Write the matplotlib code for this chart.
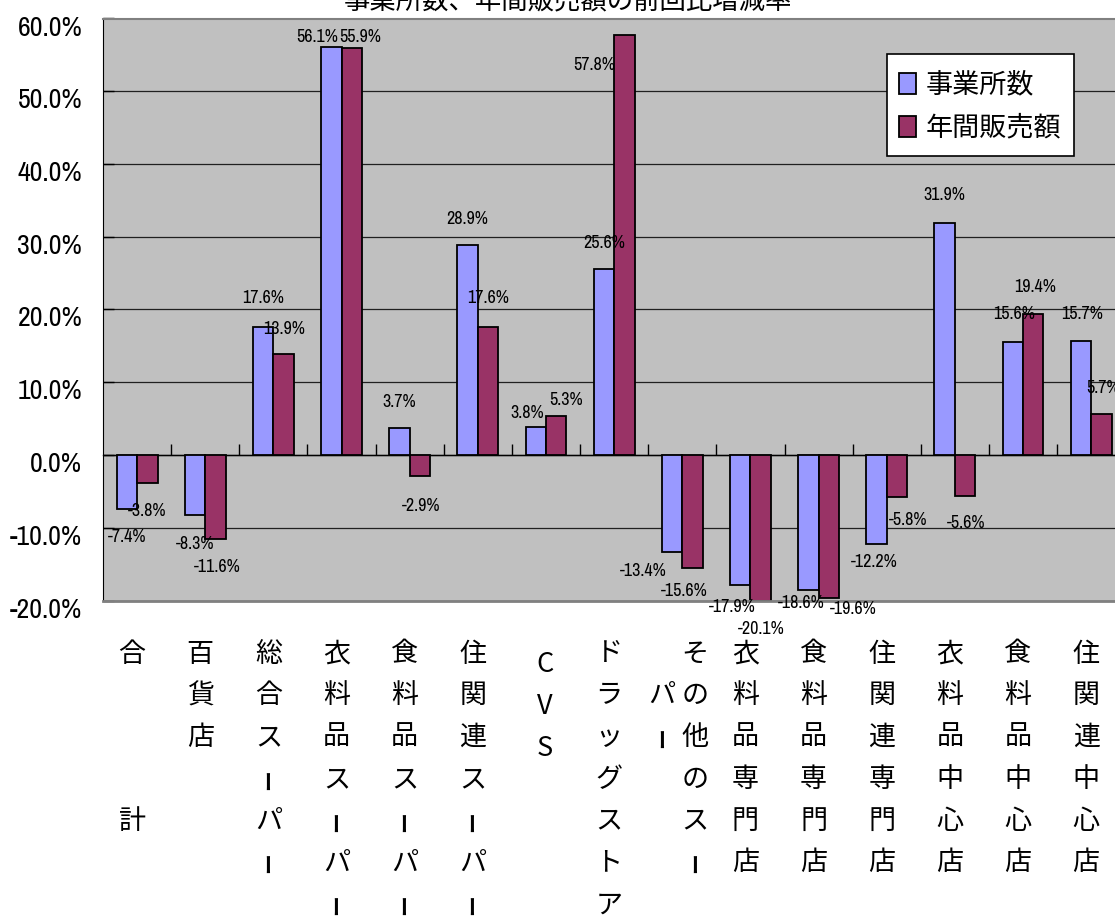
import matplotlib
matplotlib.use("Agg")
import matplotlib.pyplot as plt
from matplotlib import font_manager
from matplotlib.patches import Rectangle
from matplotlib.container import BarContainer
from matplotlib.legend_handler import HandlerPatch, update_from_first_child
from matplotlib.transforms import ScaledTranslation, blended_transform_factory

# ---- data -------------------------------------------------------------
categories = ["合計", "百貨店", "総合スーパー", "衣料品スーパー", "食料品スーパー",
              "住関連スーパー", "CVS", "ドラッグストア", "その他のスーパー",
              "衣料品専門店", "食料品専門店", "住関連専門店",
              "衣料品中心店", "食料品中心店", "住関連中心店"]
# vertical tick labels: "\n" starts a new column (to the left), "　" is an empty row
tick_labels = ["合　　　計", "百貨店", "総合スーパー", "衣料品スーパー", "食料品スーパー",
               "住関連スーパー", "CVS", "ドラッグストア", "その他のスー\n　パー",
               "衣料品専門店", "食料品専門店", "住関連専門店",
               "衣料品中心店", "食料品中心店", "住関連中心店"]
series_names = ["事業所数", "年間販売額"]
establishments = [-7.4, -8.3, 17.6, 56.1, 3.7, 28.9, 3.8, 25.6, -13.4,
                  -17.9, -18.6, -12.2, 31.9, 15.6, 15.7]
sales = [-3.8, -11.6, 13.9, 55.9, -2.9, 17.6, 5.3, 57.8, -15.6,
         -20.1, -19.6, -5.8, -5.6, 19.4, 5.7]
title = "事業所数、年間販売額の前回比増減率"

# value-label placement (pixels, relative to the bar end)
est_label_offsets = [(0, -28), (0, -29), (0, 29), (-14, 10), (0, 26), (0, 26),
                     (-9, 14), (0, 26), (-29, -18.5), (-8, -22), (-7, -13),
                     (-2, -18), (0, 28), (1.5, 27.5), (1, 27)]
sales_label_offsets = [(0, -28), (1.5, -28), (0, 25), (8, 11), (1.5, -30), (0, 29),
                       (10, 16), (-30, -30), (-8, -22.5), (1, -28), (24, -11.5),
                       (11, -23), (1, -27), (1.5, 27), (2, 25.5)]

# ---- style ------------------------------------------------------------
W, H = 1115, 916
CJK = ["Noto Sans CJK JP", "DejaVu Sans"]
installed = {f.name for f in font_manager.fontManager.ttflist}
NARROW = next((n for n in ("Liberation Sans Narrow", "Archivo Narrow", "PT Sans Narrow",
                           "Roboto Condensed", "Liberation Sans") if n in installed), "DejaVu Sans")
BLUE, RED = "#9999FF", "#993366"

fig = plt.figure(figsize=(W / 100, H / 100), dpi=100)
ax = fig.add_axes([103 / W, 1 - 600.5 / H, 15 * 68.15 / W, (600.5 - 18.5) / H])
ax.set_facecolor("#C0C0C0")

n = len(categories)
xs = [i + 0.5 for i in range(n)]
bw = 0.3
b1 = ax.bar([x - bw / 2 for x in xs], establishments, width=bw, color=BLUE,
            edgecolor="black", linewidth=1.3, label=series_names[0], zorder=3)
b2 = ax.bar([x + bw / 2 for x in xs], sales, width=bw, color=RED,
            edgecolor="black", linewidth=1.3, label=series_names[1], zorder=3)

ax.set_xlim(0, n)
ax.set_ylim(-20, 60)
ax.set_yticks(range(-20, 61, 10))
ax.set_yticklabels([f"{v:.1f}%" for v in range(-20, 61, 10)])
ax.yaxis.grid(True, color="#202020", linewidth=0.9)
ax.set_axisbelow(True)
ax.tick_params(axis="y", direction="in", length=8, width=1, pad=15,
               labelsize=20, labelfontfamily=NARROW)
for lab in ax.get_yticklabels():
    lab.set_transform(lab.get_transform() + ScaledTranslation(0, -7 / 100, fig.dpi_scale_trans))

# category boundaries marked on the zero line
ax.spines["bottom"].set_position(("data", 0))
ax.spines["bottom"].set_color("black")
ax.spines["bottom"].set_linewidth(1)
ax.set_xticks(range(1, n))
ax.tick_params(axis="x", direction="in", length=8, width=1, labelbottom=False)
ax.axhline(-20, color="#808080", linewidth=2, clip_on=False, zorder=4)
ax.spines["left"].set_color("black")
for s in ("top", "right"):
    ax.spines[s].set_color("#808080")
    ax.spines[s].set_linewidth(1.5)

# value labels
for bars, vals, offs in ((b1, establishments, est_label_offsets),
                         (b2, sales, sales_label_offsets)):
    for rect, v, (dx, dy) in zip(bars, vals, offs):
        ax.annotate(f"{v:.1f}%", xy=(rect.get_x() + rect.get_width() / 2, v),
                    xytext=(dx, dy), textcoords="offset pixels",
                    ha="center", va="center", fontsize=13,
                    family=NARROW, annotation_clip=False, zorder=5)

# vertical category labels below the plot
trans = blended_transform_factory(ax.transData, fig.transFigure)
row0, row_step = 654, 41.8
for i, lab in enumerate(tick_labels):
    cols = lab.split("\n")
    for c, col in enumerate(cols):
        dx = -5 + 18 * (len(cols) - 1) - 33 * c
        for r, ch in enumerate(col):
            if ch.isspace():
                continue
            y = 1 - (row0 + r * row_step) / H
            if ch == "ー":
                ax.annotate(ch, xy=(xs[i], y), xycoords=trans, xytext=(dx, 0),
                            textcoords="offset pixels", ha="center", va="center",
                            rotation=90, fontsize=15, fontweight="bold",
                            family=CJK, annotation_clip=False)
            elif ch.isascii():
                # upright Latin letters sit lower in the vertical run
                ax.annotate(ch, xy=(xs[i], y), xycoords=trans, xytext=(dx + 4, -11),
                            textcoords="offset pixels", ha="center", va="center",
                            fontsize=19.5, family=CJK, annotation_clip=False)
            else:
                ax.annotate(ch, xy=(xs[i], y), xycoords=trans, xytext=(dx, 0),
                            textcoords="offset pixels", ha="center", va="center",
                            fontsize=19.5, family=CJK, annotation_clip=False)

# title (partly above the canvas edge)
fig.text(568 / W, 1 - 9 / H, title, ha="center", va="baseline",
         fontsize=19, family=CJK)


# legend keys: small filled squares centred in a taller row
def square_key(legend, orig_handle, xdescent, ydescent, width, height, fontsize):
    h = 21 * 72 / 100
    return Rectangle((-xdescent, -ydescent + (height - h) / 2), width, h)


leg = ax.legend(loc="upper left", bbox_to_anchor=(887 / W, 1 - 54 / H),
                bbox_transform=fig.transFigure, borderaxespad=0,
                prop={"family": CJK, "size": 19.5}, fancybox=False,
                edgecolor="black", framealpha=1, handlelength=0.63,
                handleheight=1.61, handletextpad=0.35, labelspacing=0.3,
                borderpad=0.45,
                handler_map={BarContainer: HandlerPatch(patch_func=square_key,
                                                        update_func=update_from_first_child)})
leg.get_frame().set_linewidth(1.2)
leg.set_zorder(6)

fig.savefig("out.png", dpi=100)
